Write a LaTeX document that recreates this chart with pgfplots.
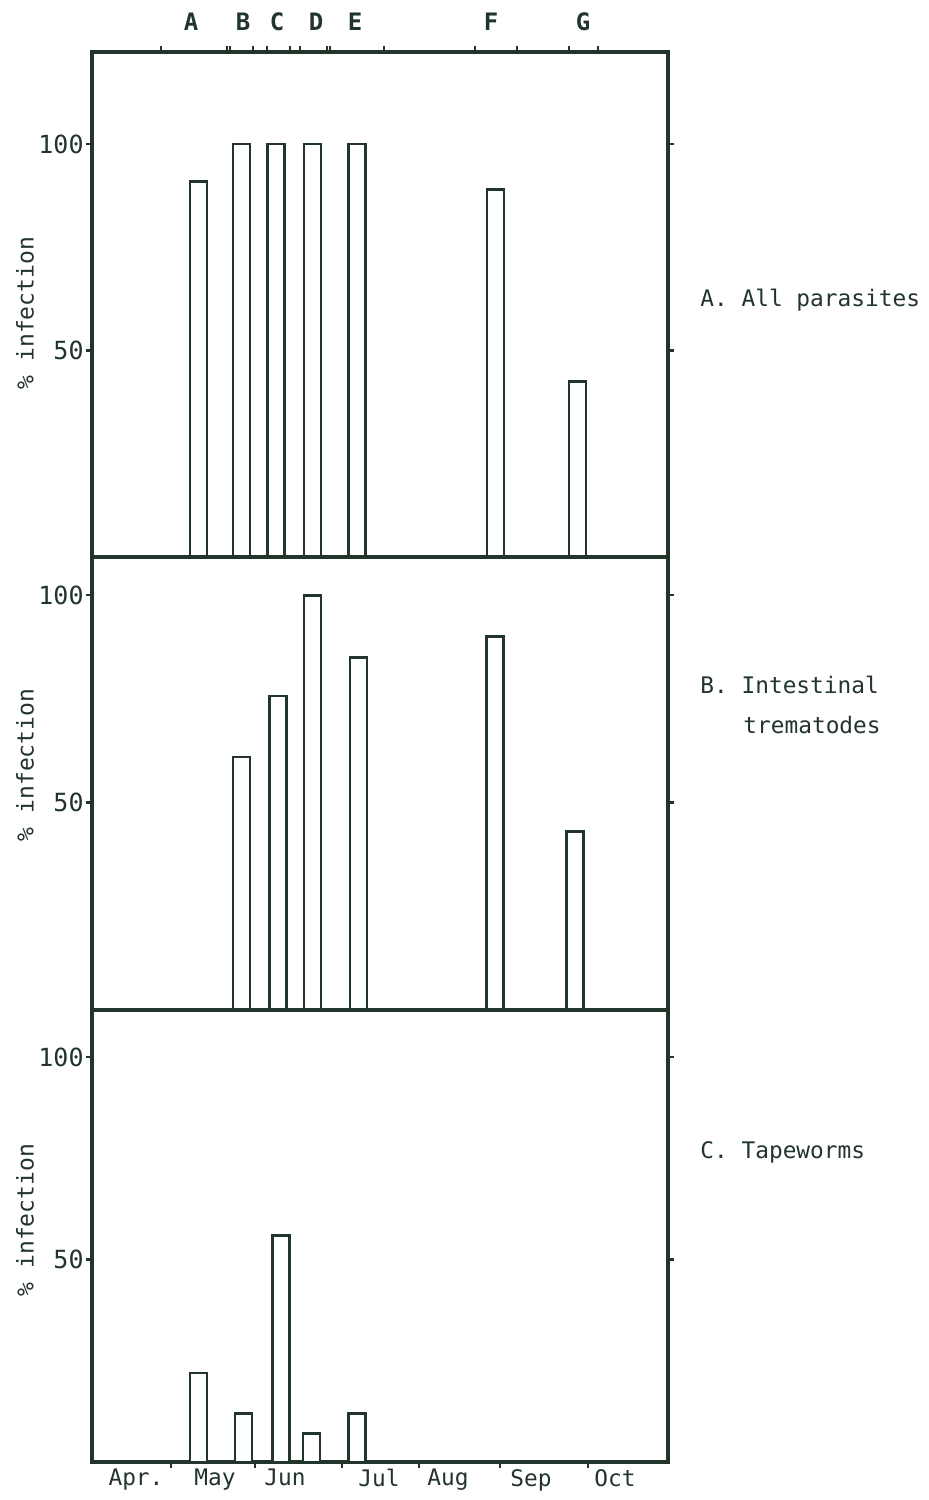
\documentclass[border=0pt]{standalone}
\usepackage{fontspec}
\setmainfont{DejaVu Sans Mono}
\usepackage{pgfplots}
\pgfplotsset{compat=1.18}
\definecolor{ink}{HTML}{22352A}

% x positions are in reference pixel units (axis spans 92..668)
\pgfplotsset{
  panel/.style={
    scale only axis, width=288pt, anchor=north west,
    xmin=92, xmax=668, ymin=0,
    axis line style={ink, line width=1.6pt},
    ytick={50,100}, ytick pos=both, yticklabel pos=left,
    tick align=outside, major tick length=3pt,
    tick style={ink, line width=1.1pt},
    yticklabel style={inner sep=1pt, font=\fontsize{12.5}{14}\selectfont},
    ticklabel style={font=\fontsize{11.4}{13}\selectfont, text=ink},
    /pgf/number format/assume math mode=true,
    ylabel={\% infection},
    ybar, bar width=17,
  },
  ylab/.style={every axis y label/.style={at={(axis description cs:-0.1163,#1)},
    rotate=90, anchor=center, text=ink, font=\fontsize{11.5}{13}\selectfont}},
  bars/.style={fill=white, draw=ink, line width=1.4pt},
}

\begin{document}
\begin{tikzpicture}
\path (0,0) rectangle (464pt,-750pt);

% A. All parasites
\begin{axis}[panel, ylab=0.483, at={(46pt,-26pt)}, height=252.5pt, ymax=122.3,
  xtick={161,227,230,253,267,290,300,327,330,384,475,517,569,598},
  xticklabels={}, xtick pos=right, xticklabel pos=right,
  extra x ticks={191,243,277,316,355,491,583},
  extra x tick labels={A,B,C,D,E,F,G},
  extra x tick style={major tick length=0pt,
    xticklabel style={yshift=7pt, font=\fontsize{12}{14}\selectfont\bfseries}}]
\addplot[bars] coordinates {(198.5,91) (241.5,100) (276,100) (312.5,100) (357,100) (495.5,89) (577.5,42.5)};
\end{axis}

% B. Intestinal trematodes
\begin{axis}[panel, ylab=0.541, at={(46pt,-278.5pt)}, height=226.5pt, ymax=109.2,
  xtick=\empty]
\addplot[bars] coordinates {(241.5,61) (278,75.7) (312.5,100) (358.5,85) (495,90) (575,43)};
\end{axis}

% C. Tapeworms
\begin{axis}[panel, ylab=0.535, at={(46pt,-505pt)}, height=226pt, ymax=111.6,
  xtick={171,255,342,419,500,588},
  xticklabels={}, xtick pos=left, xticklabel pos=left,
  extra x ticks={136,215,285,379,448,531,615},
  extra x tick labels={Apr.,May,Jun,Jul,Aug,Sep,Oct},
  extra x tick style={major tick length=0pt}]
\addplot[bars] coordinates {(198.5,22) (243.5,12) (281,56) (311.5,7) (357,12)};
\end{axis}

\begin{scope}[every node/.style={anchor=west, inner sep=0pt, text=ink, font=\fontsize{11.4}{13}\selectfont}]
\node at (350pt,-150pt) {A. All parasites};
\node at (350pt,-342.5pt) {B. Intestinal};
\node at (371.5pt,-362.5pt) {trematodes};
\node at (350pt,-576pt) {C. Tapeworms};
\end{scope}
\end{tikzpicture}
\end{document}
